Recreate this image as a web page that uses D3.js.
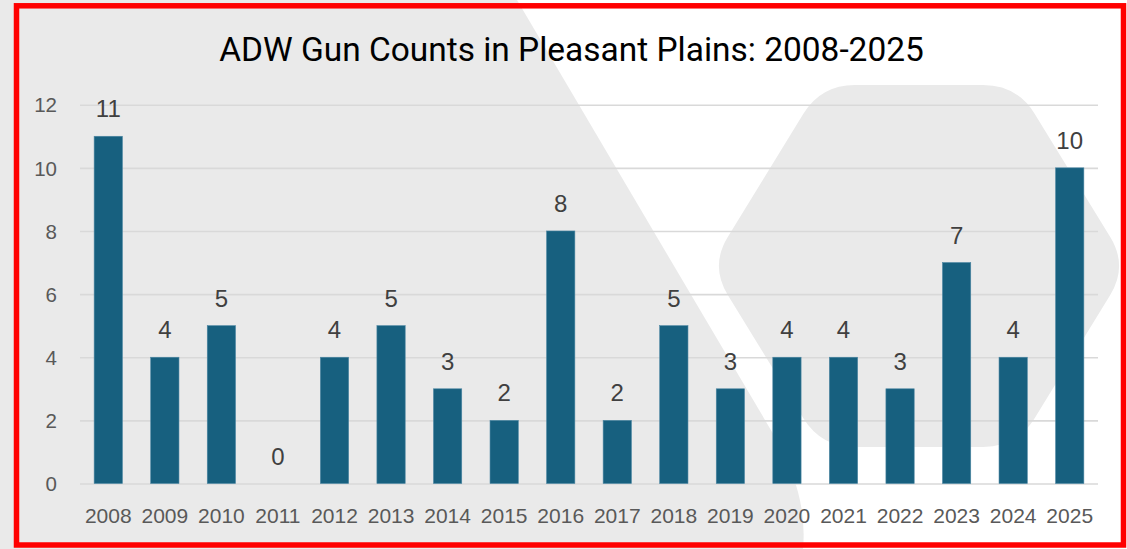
<!DOCTYPE html>
<html>
<head>
<meta charset="utf-8">
<script src="https://cdn.jsdelivr.net/npm/d3@7"></script>
<style>
  html, body { margin: 0; padding: 0; background: #ffffff; }
  svg { display: block; }
</style>
</head>
<body>
<svg id="chart" width="1127" height="549"></svg>
<script>
const title = "ADW Gun Counts in Pleasant Plains: 2008-2025";
const years = ["2008","2009","2010","2011","2012","2013","2014","2015","2016","2017","2018","2019","2020","2021","2022","2023","2024","2025"];
const counts = [11,4,5,0,4,5,3,2,8,2,5,3,4,4,3,7,4,10];
const yTicks = [0,2,4,6,8,10,12];

const W = 1127, H = 549;
const svg = d3.select("#chart");

// background decorative shapes
const bgGrey = "#eaeaea";
svg.append("rect").attr("x",0).attr("y",0).attr("width",W).attr("height",H).attr("fill","#ffffff");
svg.append("path")
  .attr("d","M0,0 L517,0 L775,437 Q808,495 803,549 L0,549 Z")
  .attr("fill", bgGrey);

// rounded hexagon on the right
function roundedPolygon(pts, r) {
  const n = pts.length;
  let d = "";
  for (let i = 0; i < n; i++) {
    const p0 = pts[(i - 1 + n) % n], p1 = pts[i], p2 = pts[(i + 1) % n];
    const v1 = [p0[0]-p1[0], p0[1]-p1[1]], v2 = [p2[0]-p1[0], p2[1]-p1[1]];
    const l1 = Math.hypot(v1[0], v1[1]), l2 = Math.hypot(v2[0], v2[1]);
    const a = [p1[0] + v1[0]/l1*r, p1[1] + v1[1]/l1*r];
    const b = [p1[0] + v2[0]/l2*r, p1[1] + v2[1]/l2*r];
    d += (i === 0 ? "M" : "L") + a[0] + "," + a[1] + " Q" + p1[0] + "," + p1[1] + " " + b[0] + "," + b[1] + " ";
  }
  return d + "Z";
}
const hex = [[821,85],[1017,85],[1128,266],[1017,447],[821,447],[710,266]];
svg.append("path").attr("d", roundedPolygon(hex, 34)).attr("fill", bgGrey);

// scales
const x = d3.scaleBand().domain(years).range([80, 1098]).paddingInner(0.5).paddingOuter(0.25);
const y = d3.scaleLinear().domain([0, 12]).range([483.5, 104.7]);

// gridlines
const gridAxis = d3.axisLeft(y).tickValues(yTicks).tickSize(-(1098 - 80)).tickFormat("");
const g = svg.append("g").attr("transform","translate(80,0)").call(gridAxis);
g.select(".domain").remove();
g.selectAll("line").attr("stroke","#d9d9d9").attr("stroke-width",1.6);

// y tick labels
const yAx = svg.append("g").attr("transform","translate(80,0)")
  .call(d3.axisLeft(y).tickValues(yTicks).tickSize(0).tickPadding(23));
yAx.select(".domain").remove();
yAx.selectAll("text")
  .attr("font-family","'Liberation Sans', Arial, sans-serif")
  .attr("font-size","20.5px")
  .attr("fill","#595959")
  .attr("dy","0.35em");

// x tick labels
const xAx = svg.append("g").attr("transform","translate(0,483.5)")
  .call(d3.axisBottom(x).tickSize(0).tickPadding(0));
xAx.select(".domain").remove();
xAx.selectAll("text")
  .attr("font-family","'Liberation Sans', Arial, sans-serif")
  .attr("font-size","21px")
  .attr("fill","#595959")
  .attr("dy", null)
  .attr("y", 39);

// bars
const data = years.map((yr, i) => ({year: yr, value: counts[i]}));
svg.append("g").selectAll("rect").data(data).join("rect")
  .attr("x", d => x(d.year))
  .attr("y", d => y(d.value))
  .attr("width", x.bandwidth())
  .attr("height", d => y(0) - y(d.value))
  .attr("fill", "#17607f")
  .attr("stroke", "#4d87a3")
  .attr("stroke-width", 0.6);

// data labels
svg.append("g").selectAll("text").data(data).join("text")
  .attr("x", d => x(d.year) + x.bandwidth()/2)
  .attr("y", d => y(d.value) - 19)
  .attr("text-anchor","middle")
  .attr("font-family","'Liberation Sans', Arial, sans-serif")
  .attr("font-size","24px")
  .attr("fill","#404040")
  .text(d => d.value);

// title
const t = svg.append("text")
  .attr("x", 571.5).attr("y", 60.7)
  .attr("text-anchor","middle")
  .attr("font-family","Roboto, 'Noto Sans', sans-serif")
  .attr("font-size","33px")
  .attr("fill","#000000")
  .text(title);
const tw = t.node().getComputedTextLength();
if (tw > 0) {
  const fs = Math.max(28, Math.min(38, 33 * 705 / tw));
  t.attr("font-size", fs + "px");
}

// red frame
svg.append("rect")
  .attr("x",16.5).attr("y",5.8).attr("width",1107).attr("height",539.2)
  .attr("fill","none").attr("stroke","#ff0000").attr("stroke-width",5.5);
</script>
</body>
</html>
